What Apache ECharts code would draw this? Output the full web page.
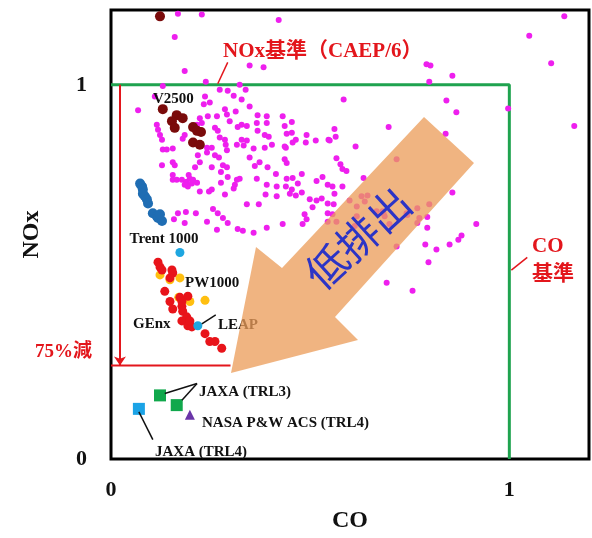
<!DOCTYPE html>
<html>
<head>
<meta charset="utf-8">
<script src="https://cdn.jsdelivr.net/npm/echarts@6/dist/echarts.min.js"></script>
<style>
  html, body { margin: 0; padding: 0; background: #fff; }
  #main { width: 592px; height: 538px; }
</style>
</head>
<body>
<div id="main"></div>
<script>
// 既存エンジン (ICAO database)
const dbPoints = [
  [0.168,1.19],[0.228,1.188],[0.421,1.173],[0.160,1.128],[1.138,1.183],[1.050,1.131],[1.105,1.058],
  [0.185,1.037],[0.348,1.052],[0.383,1.047],[0.792,1.055],[0.802,1.052],[0.799,1.008],[0.857,1.024],
  [0.238,1.008],[0.323,1.000],[0.130,0.997],[0.273,0.987],[0.293,0.984],[0.338,0.987],[0.308,0.971],
  [0.842,0.958],[0.867,0.927],[0.997,0.937],[1.163,0.890],[0.697,0.887],[0.840,0.869],[0.717,0.801],
  [0.857,0.712],[0.917,0.628],[0.880,0.597],[0.872,0.586],[0.789,0.573],[0.850,0.573],[0.817,0.560],
  [0.794,0.618],[0.794,0.647],[0.769,0.631],[0.797,0.526],[0.717,0.568],[0.692,0.471],[0.757,0.450],
  [0.599,0.691],[0.617,0.675],[0.629,0.702],[0.644,0.704],[0.637,0.688],[0.556,0.654],[0.544,0.634],
  [0.566,0.634],[0.682,0.662],[0.687,0.649],[0.742,0.657],[0.744,0.652],[0.769,0.670],[0.774,0.644],
  [0.799,0.681],[0.617,0.649],[0.612,0.623],[0.667,0.662],[0.699,0.628],[0.684,0.657],[0.634,0.751],
  [0.584,0.961],[0.431,0.916],[0.454,0.901],[0.561,0.882],[0.441,0.869],[0.454,0.872],[0.464,0.853],
  [0.456,0.846],[0.491,0.866],[0.489,0.846],[0.514,0.851],[0.546,0.853],[0.564,0.861],[0.614,0.835],
  [0.439,0.832],[0.436,0.801],[0.441,0.791],[0.566,0.804],[0.576,0.788],[0.581,0.775],[0.591,0.770],
  [0.479,0.762],[0.441,0.749],[0.456,0.751],[0.469,0.736],[0.439,0.728],[0.454,0.720],[0.516,0.743],
  [0.531,0.754],[0.544,0.733],[0.556,0.728],[0.449,0.709],[0.464,0.704],[0.479,0.712],[0.499,0.694],
  [0.516,0.691],[0.529,0.696],[0.544,0.683],[0.561,0.709],[0.581,0.728],[0.506,0.673],[0.486,0.654],
  [0.491,0.641],[0.481,0.628],[0.544,0.657],[0.431,0.628],[0.559,0.681],
  [0.236,0.969],[0.233,0.948],[0.248,0.953],[0.110,0.969],[0.286,0.935],[0.313,0.929],[0.291,0.921],
  [0.266,0.916],[0.243,0.916],[0.223,0.911],[0.228,0.898],[0.328,0.893],[0.298,0.903],[0.368,0.919],
  [0.391,0.916],[0.366,0.898],[0.391,0.898],[0.318,0.887],[0.341,0.890],[0.115,0.893],[0.118,0.880],
  [0.261,0.885],[0.268,0.877],[0.216,0.893],[0.123,0.866],[0.128,0.853],[0.185,0.866],[0.180,0.856],
  [0.328,0.853],[0.341,0.851],[0.386,0.866],[0.396,0.861],[0.368,0.877],[0.273,0.859],[0.286,0.853],
  [0.436,0.890],[0.288,0.840],[0.253,0.832],[0.241,0.832],[0.130,0.827],[0.140,0.827],[0.155,0.830],
  [0.316,0.840],[0.333,0.838],[0.358,0.830],[0.386,0.832],[0.404,0.840],[0.436,0.835],[0.291,0.825],
  [0.241,0.819],[0.261,0.812],[0.271,0.806],[0.218,0.812],[0.348,0.806],[0.373,0.793],[0.128,0.785],
  [0.155,0.793],[0.160,0.785],[0.223,0.793],[0.211,0.780],[0.253,0.780],[0.281,0.785],[0.291,0.780],
  [0.276,0.767],[0.155,0.759],[0.155,0.746],[0.361,0.783],[0.393,0.780],[0.414,0.762],[0.293,0.754],
  [0.195,0.759],[0.165,0.746],[0.178,0.746],[0.190,0.741],[0.193,0.728],[0.203,0.736],[0.185,0.733],
  [0.198,0.749],[0.206,0.746],[0.216,0.738],[0.223,0.715],[0.246,0.715],[0.253,0.720],[0.276,0.738],
  [0.316,0.746],[0.323,0.749],[0.311,0.733],[0.308,0.723],[0.366,0.749],[0.391,0.733],[0.416,0.728],
  [0.286,0.707],[0.388,0.707],[0.341,0.681],[0.371,0.681],[0.416,0.702],[0.168,0.657],[0.188,0.660],
  [0.213,0.657],[0.158,0.641],[0.256,0.668],[0.268,0.657],[0.281,0.644],[0.293,0.631],[0.241,0.634],
  [0.185,0.631],[0.266,0.613],[0.318,0.615],[0.331,0.610],[0.358,0.605],[0.391,0.618],
  [0.068,0.932],[0.348,0.942],[0.328,0.961],[0.549,0.851]
];
const v2500 = [
  [0.123,1.183],[0.130,0.935],[0.165,0.919],[0.180,0.911],[0.153,0.903],[0.160,0.885],
  [0.206,0.887],[0.216,0.877],[0.226,0.874],[0.206,0.846],[0.223,0.840]
];
const trent1000 = [
  [0.073,0.736],[0.078,0.728],[0.080,0.720],[0.080,0.709],[0.085,0.702],[0.090,0.694],
  [0.093,0.683],[0.105,0.657],[0.115,0.649],[0.118,0.644],[0.128,0.636],[0.123,0.654]
];
const leap = [[0.173,0.552],[0.218,0.356]];
const genx = [
  [0.118,0.526],[0.123,0.513],[0.128,0.505],[0.153,0.505],[0.155,0.497],[0.148,0.484],
  [0.135,0.448],[0.148,0.421],[0.155,0.401],[0.173,0.432],[0.193,0.435],[0.178,0.408],
  [0.180,0.395],[0.190,0.380],[0.178,0.369],[0.193,0.356],[0.203,0.353],[0.198,0.369],
  [0.236,0.335],[0.248,0.314],[0.261,0.314],[0.278,0.296],[0.178,0.421]
];
const pw1000 = [[0.123,0.492],[0.148,0.479],[0.173,0.484],[0.170,0.432],[0.198,0.421],[0.236,0.424]];
const jaxaTrl3 = [[0.123,0.170],[0.165,0.144]];
const jaxaTrl4 = [[0.070,0.134]];
const nasaAcs = [[0.198,0.118]];

// 基準線
const noxCoLimit = [[0, 1], [1, 1], [1, 0]];
const reduction75 = [[0, 0.25], [0.3, 0.25]];
const arrowX = 0.0225;

// 引出線
const leaders = [
  [[0.293,1.060],[0.268,1.003]],
  [[1.005,0.505],[1.045,0.539]],
  [[0.228,0.361],[0.263,0.385]],
  [[0.135,0.175],[0.216,0.202]],
  [[0.178,0.157],[0.216,0.202]],
  [[0.070,0.126],[0.105,0.052]]
];

const serif = '"Liberation Serif", "Noto Sans CJK JP", serif';

function dots(data, color, size, symbol) {
  return {
    type: 'scatter', data: data, symbol: symbol || 'circle', symbolSize: size,
    itemStyle: { color: color, opacity: 1 }, silent: true, z: 3
  };
}

const series = [];
series.push({
  type: 'line', data: noxCoLimit, symbol: 'none', silent: true, z: 2,
  lineStyle: { color: '#1fa34f', width: 3 }
});
series.push({
  type: 'line', data: reduction75, symbol: 'none', silent: true, z: 2,
  lineStyle: { color: '#e3161c', width: 2 },
  markLine: {
    silent: true, symbol: ['none', 'arrow'], symbolSize: 9, label: { show: false },
    lineStyle: { color: '#e3161c', width: 2, type: 'solid' },
    data: [[{ coord: [arrowX, 1] }, { coord: [arrowX, 0.25] }]]
  }
});
series.push(dots(dbPoints, '#ee1fee', 6));
series.push(dots(v2500, '#7a0b0b', 10));
series.push(dots(trent1000, '#1f6db3', 10));
series.push(dots(pw1000, '#ffbf10', 9));
series.push(dots(genx, '#e8141a', 9));
series.push(dots(leap, '#1ea6e0', 9));
series.push(dots(jaxaTrl3, '#10a84c', 12, 'rect'));
series.push(dots(jaxaTrl4, '#1ba3e6', 12, 'rect'));
series.push(dots(nasaAcs, '#6a35a8', 10, 'triangle'));
leaders.forEach(function (seg) {
  series.push({
    type: 'line', data: seg, symbol: 'none', silent: true, z: 4,
    lineStyle: { color: seg[0][0] > 0.9 || seg[0][1] > 1 ? '#e3161c' : '#111', width: 1.5 }
  });
});

function txt(x, y, s, size, color, align) {
  return {
    type: 'text', x: x, y: y, z: 50, silent: true,
    style: {
      text: s, fill: color || '#111', font: 'bold ' + size + 'px ' + serif,
      textAlign: align || 'left', textVerticalAlign: 'middle'
    }
  };
}

const chart = echarts.init(document.getElementById('main'));
chart.setOption({
  animation: false,
  grid: { left: 111, right: 3, top: 10, bottom: 70, show: true, borderColor: '#000', borderWidth: 3, backgroundColor: 'transparent' },
  xAxis: {
    type: 'value', min: 0, max: 1.2, interval: 1,
    name: 'CO', nameLocation: 'middle', nameGap: 50,
    nameTextStyle: { fontSize: 24, fontWeight: 'bold', fontFamily: serif, color: '#111' },
    axisLine: { show: false }, axisTick: { show: false }, splitLine: { show: false },
    axisLabel: {
      margin: 20, fontSize: 22, fontWeight: 'bold', fontFamily: serif, color: '#111',
      formatter: function (v) { return (v === 0 || v === 1) ? String(v) : ''; }
    }
  },
  yAxis: {
    type: 'value', min: 0, max: 1.2, interval: 1,
    name: 'NOx', nameLocation: 'middle', nameGap: 67,
    nameTextStyle: { fontSize: 24, fontWeight: 'bold', fontFamily: serif, color: '#111' },
    axisLine: { show: false }, axisTick: { show: false }, splitLine: { show: false },
    axisLabel: {
      margin: 24, fontSize: 22, fontWeight: 'bold', fontFamily: serif, color: '#111',
      formatter: function (v) { return (v === 0 || v === 1) ? String(v) : ''; }
    }
  },
  series: series,
  graphic: [
    txt(153, 99, 'V2500', 15),
    txt(164, 239, 'Trent 1000', 15, '#111', 'center'),
    txt(185, 283, 'PW1000', 15),
    txt(133, 324, 'GEnx', 15),
    txt(218, 325, 'LEAP', 15),
    txt(199, 392, 'JAXA (TRL3)', 15),
    txt(202, 423, 'NASA P&W ACS (TRL4)', 15),
    txt(155, 452, 'JAXA (TRL4)', 15),
    txt(223, 52, 'NOx基準（CAEP/6）', 21, '#e3161c'),
    txt(532, 247, 'CO', 21, '#e3161c'),
    txt(532, 275, '基準', 21, '#e3161c'),
    txt(35, 352, '75%減', 19, '#e3161c'),
    {
      type: 'polygon', z: 60, silent: true,
      shape: { points: [[231,373],[256,247],[282,268],[424,117],[474,163],[335,317],[358,340]] },
      style: { fill: '#eb9d5a', opacity: 0.76 }
    },
    {
      type: 'text', x: 358, y: 238, rotation: 0.74, z: 70, silent: true,
      style: {
        text: '低排出', fill: '#2c34c6', font: '42px "Noto Sans CJK JP", sans-serif',
        textAlign: 'center', textVerticalAlign: 'middle'
      }
    }
  ]
});
</script>
</body>
</html>
